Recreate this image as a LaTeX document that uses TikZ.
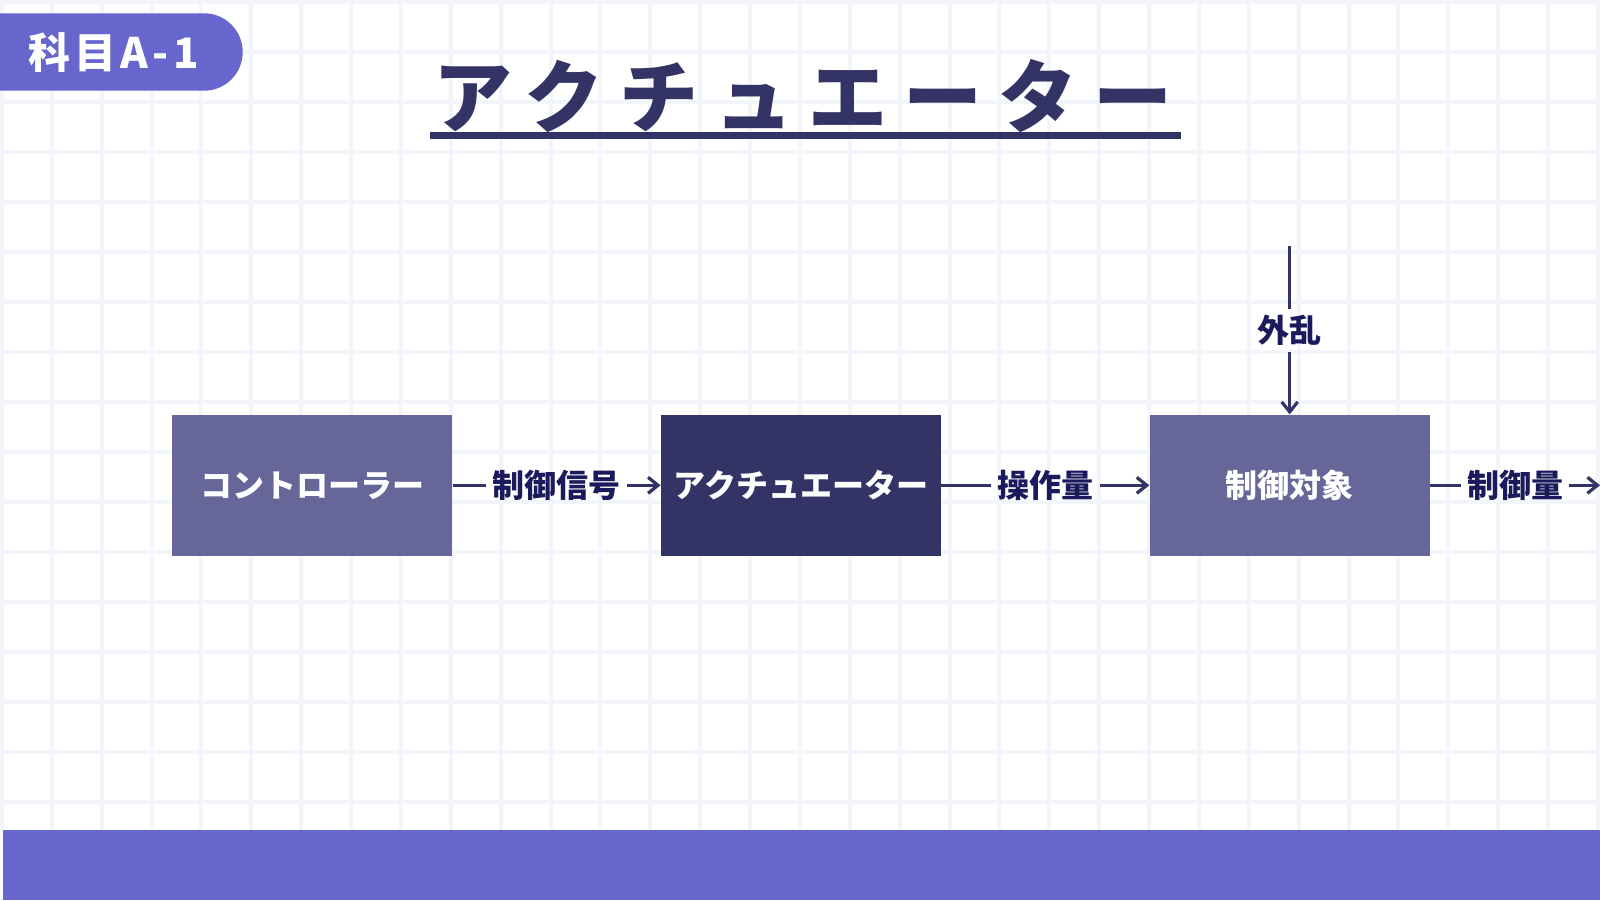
\documentclass[tikz,border=0pt]{standalone}
\usepackage{fontspec}
\setmainfont{Noto Sans CJK JP}
\newfontfamily\titlefont{Noto Sans CJK JP}[LetterSpace=20]
\newfontfamily\badgefont{Noto Sans CJK JP}[LetterSpace=10]
\usetikzlibrary{arrows.meta,positioning}
\definecolor{bgrid}{HTML}{F2F6FA}
\definecolor{badge}{HTML}{6666CC}
\definecolor{navy}{HTML}{333366}
\definecolor{slate}{HTML}{666699}
\definecolor{ink}{HTML}{1A1A5C}
\begin{document}
\begin{tikzpicture}[x=0.5pt, y=-0.5pt, >={Straight Barb[length=5pt,width=8pt]},
    blk/.style={rectangle, minimum width=140pt, minimum height=70.5pt, inner sep=0pt, text=white, font=\bfseries\fontsize{16}{18}\selectfont},
    lbl/.style={text=ink, inner sep=3pt, font=\bfseries\fontsize{16}{18}\selectfont},
    wire/.style={navy, line width=1.6pt}]
      \clip (0,0) rectangle (1600,900);
      \fill[white] (0,0) rectangle (1600,900);
      \foreach \i in {0,...,32} \draw[bgrid, line width=2pt] ({2+49.87*\i},0) -- ({2+49.87*\i},830);
      \foreach \i in {0,...,16} \draw[bgrid, line width=2pt] (0,{1.7+50*\i}) -- (1600,{1.7+50*\i});

      \fill[badge, rounded corners=19.3pt] (-60,13.3) rectangle (242.7,90.7);
      \node[text=white, inner sep=0pt, font=\badgefont\bfseries\fontsize{21}{24}\selectfont] (tag) at (113.6,53) {科目A-1};
      \node[text=navy, inner sep=0pt, font=\titlefont\bfseries\fontsize{39.5}{45}\selectfont] (title) at (803,96) {アクチュエーター};
      \draw[navy, line width=3.5pt] (430,135) -- (1181,135);

      \node[blk, fill=slate] (ctrl) at (312.3,485.3) {コントローラー};
      \node[blk, fill=navy] (act) at (801,485.3) {アクチュエーター};
      \node[blk, fill=slate] (plant) at (1289.7,485.3) {制御対象};
      \coordinate (dtop) at (1289.7,246);
      \coordinate (yend) at (1600,485.3);

      \path (ctrl.east) -- node[lbl] (sig) {制御信号} (act.west);
      \path (act.east) -- node[lbl] (op) {操作量} (plant.west);
      \path (plant.east) -- node[lbl] (out) {制御量} (yend);
      \path (dtop) -- node[lbl] (dist) {外乱} (plant.north);

      \draw[wire] (ctrl) -- (sig);
      \draw[wire, ->] (sig) -- (act);
      \draw[wire] (act) -- (op);
      \draw[wire, ->] (op) -- (plant);
      \draw[wire] (plant) -- (out);
      \draw[wire, ->] (out) -- (yend);
      \draw[wire] (dtop) -- (dist);
      \draw[wire, ->] (dist) -- (plant);

      \fill[badge] (2.5,830) rectangle (1600,900);
    \end{tikzpicture}
\end{document}
